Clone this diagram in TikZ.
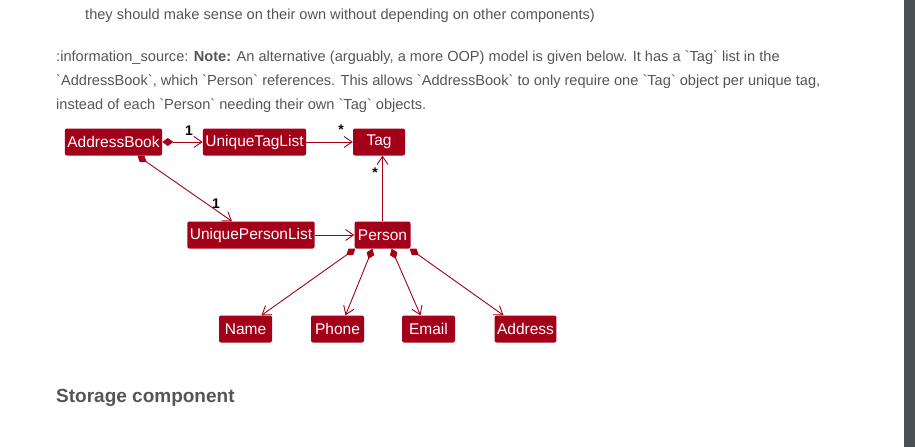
\documentclass[tikz,border=0pt]{standalone}
\usepackage{fontspec}
\setmainfont{Liberation Sans}
\usepackage{xcolor}
\usetikzlibrary{arrows.meta, positioning}
\definecolor{umlred}{HTML}{A30019}
\definecolor{bodygray}{HTML}{555555}
\definecolor{barcol}{HTML}{4B5053}
\newcommand{\bt}[1]{\textasciigrave#1\textasciigrave}

\tikzset{
    cls/.style={fill=umlred, text=white, rounded corners=2pt, minimum height=27pt, minimum width=52pt,
        inner xsep=2.5pt, inner ysep=0pt, font=\fontsize{15.5}{16}\selectfont},
    assoc/.style={umlred, line width=0.9pt, -{Straight Barb[length=8pt, width=11pt]}},
    comp/.style={umlred, line width=0.9pt, {Diamond[length=11pt, width=8pt]}-{Straight Barb[length=8pt, width=11pt]}},
    mult/.style={font=\fontsize{14}{14}\bfseries\selectfont, inner sep=0pt},
    para/.style={anchor=base west, text=bodygray, inner sep=0pt, font=\fontsize{14.6}{15}\selectfont}
}

\begin{document}
\begin{tikzpicture}[x=1pt, y=-1pt]
                        \useasboundingbox (0, 0) rectangle (915, 447);
                        \fill[barcol] (904, 0) rectangle (915, 447);

                        \node[para] (line0) at (85, 19) {they should make sense on their own without depending on other components)};
                        \node[para] (line1) at (56, 61) {:information\_source: \textbf{Note:} An alternative (arguably, a more OOP) model is given below. It has a \bt{Tag} list in the};
                        \node[para] (line2) at (56, 85) {\bt{AddressBook}, which \bt{Person} references. This allows \bt{AddressBook} to only require one \bt{Tag} object per unique tag,};
                        \node[para] (line3) at (56, 109) {instead of each \bt{Person} needing their own \bt{Tag} objects.};
                        \node[para, font=\fontsize{19}{20}\bfseries\selectfont] (storage) at (56, 402) {Storage component};

                        \node[cls] (addressbook) at (113.5, 142) {AddressBook};
                        \node[cls] (tagl) at (254.5, 142) {UniqueTagList};
                        \node[cls] (tag) at (379, 142) {Tag};
                        \node[cls] (personl) at (251, 235) {UniquePersonList};
                        \node[cls, minimum width=56pt] (person) at (382.5, 235) {Person};
                        \node[cls, minimum width=53pt] (name) at (245.5, 329) {Name};
                        \node[cls, minimum width=53pt] (phone) at (337.5, 329) {Phone};
                        \node[cls, minimum width=53pt] (email) at (428.5, 329) {Email};
                        \node[cls] (address) at (525.5, 329) {Address};

                        \coordinate (ab-s) at ([xshift=24]addressbook.south);
                        \coordinate (pl-n) at ([xshift=-19]personl.north);
                        \coordinate (p1) at ([xshift=1]person.south west);
                        \coordinate (p2) at ([xshift=-10]person.south);
                        \coordinate (p3) at ([xshift=9]person.south);
                        \coordinate (p4) at ([xshift=-1]person.south east);

                        \draw
                        (addressbook) edge[comp] (tagl)
                        (tagl) edge[assoc] (tag)
                        (ab-s) edge[comp] (pl-n)
                        (personl) edge[assoc] (person)
                        (person.north) edge[assoc] (tag.south -| person.north)
                        (p1) edge[comp] ([xshift=16]name.north)
                        (p2) edge[comp] ([xshift=8]phone.north)
                        (p3) edge[comp] ([xshift=-8]email.north)
                        (p4) edge[comp] ([xshift=-22]address.north);

                        \node[mult] (m1) at (189, 131) {1};
                        \node[mult] (m2) at (341, 130) {*};
                        \node[mult] (m3) at (216, 204) {1};
                        \node[mult] (m4) at (375, 173) {*};
                    \end{tikzpicture}
\end{document}
